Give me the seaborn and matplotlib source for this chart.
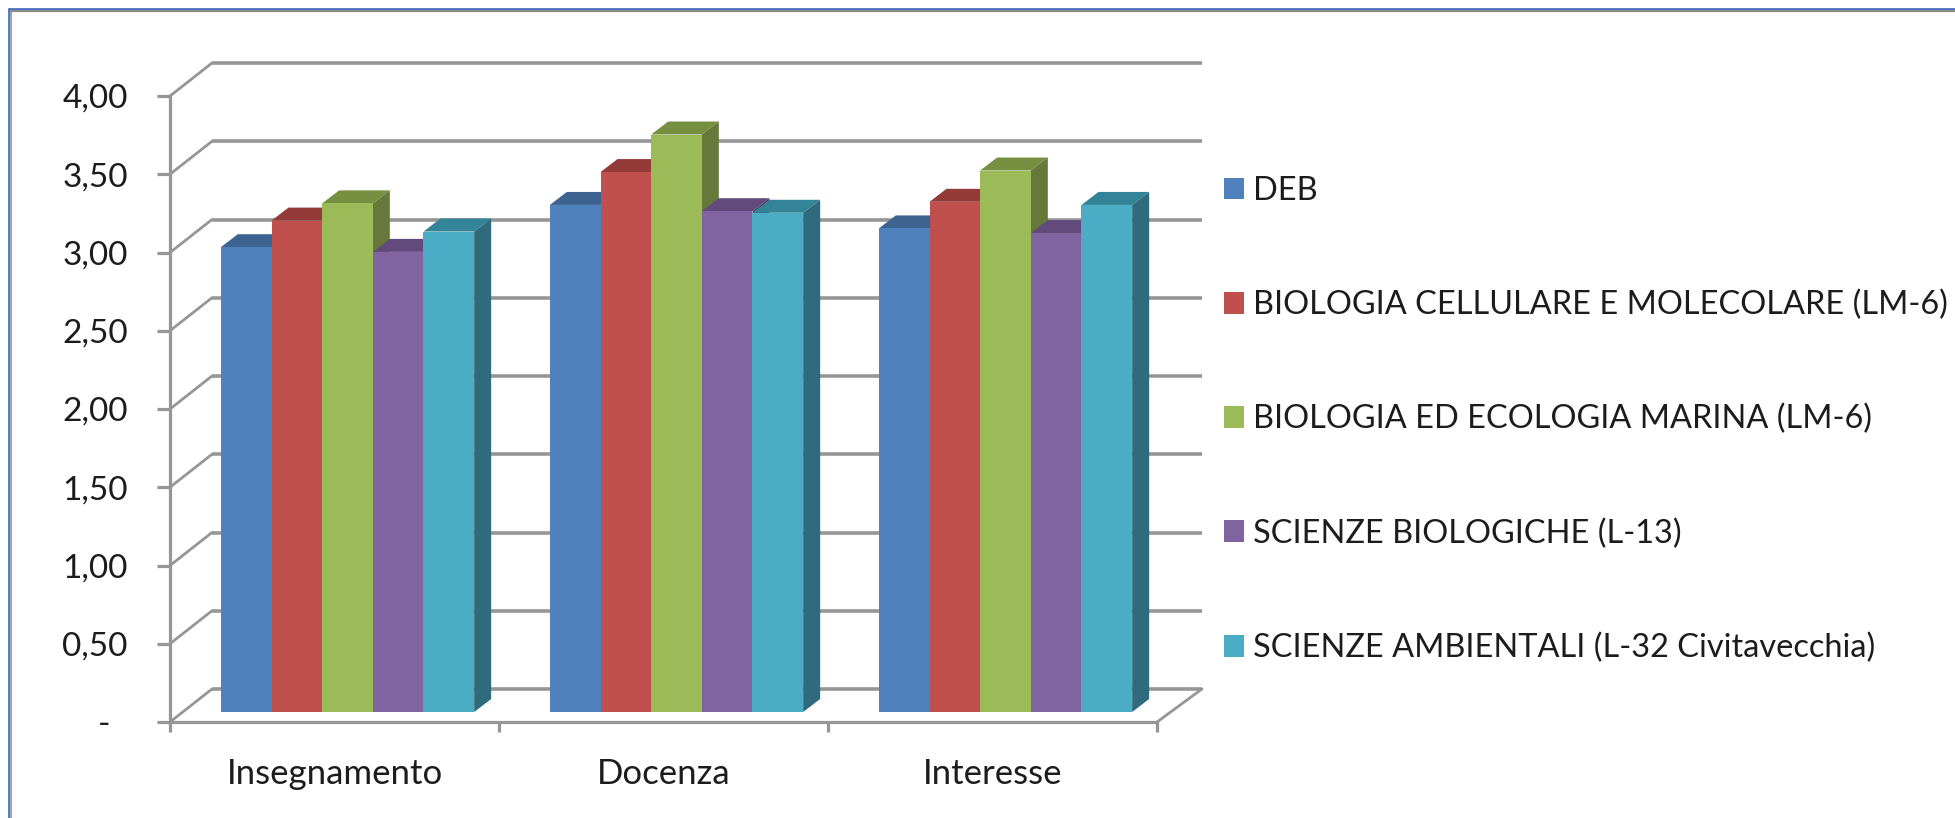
import matplotlib
matplotlib.use("Agg")
import matplotlib.pyplot as plt
from matplotlib.lines import Line2D
from matplotlib.patches import ConnectionPatch, Polygon
import pandas as pd
import seaborn as sns

categories = ["Insegnamento", "Docenza", "Interesse"]
series_names = [
    "DEB",
    "BIOLOGIA CELLULARE E MOLECOLARE (LM-6)",
    "BIOLOGIA ED ECOLOGIA MARINA (LM-6)",
    "SCIENZE BIOLOGICHE (L-13)",
    "SCIENZE AMBIENTALI (L-32 Civitavecchia)",
]
deb = [2.97, 3.24, 3.09]
cellulare = [3.14, 3.45, 3.26]
marina = [3.25, 3.69, 3.46]
biologiche = [2.94, 3.20, 3.06]
ambientali = [3.07, 3.19, 3.24]
all_values = [deb, cellulare, marina, biologiche, ambientali]

y_ticks = [0, 0.5, 1, 1.5, 2, 2.5, 3, 3.5, 4]
y_labels = ["-  ", "0,50", "1,00", "1,50", "2,00", "2,50", "3,00", "3,50", "4,00"]

front_colors = ["#4F81BD", "#C0504D", "#9BBB59", "#8064A2", "#4BACC6"]
top_colors = ["#3D6491", "#943A38", "#778F40", "#624A7C", "#348499"]
side_colors = ["#30506F", "#723130", "#66793A", "#4D3C60", "#2F6B7C"]
GRAY = "#969696"
FONT = "Lato"
W, H = 1955, 818

sns.set_theme(style="white")
plt.rcParams["font.family"] = [FONT, "DejaVu Sans"]

df = pd.DataFrame(
    [(c, s, v[i]) for s, v in zip(series_names, all_values) for i, c in enumerate(categories)],
    columns=["Ambito", "Corso", "Valore"],
)

fig = plt.figure(figsize=(W / 100, H / 100), dpi=100, facecolor="white")


def plane(left, right, top, bottom, z):
    a = fig.add_axes([left / W, 1 - bottom / H, (right - left) / W, (bottom - top) / H], zorder=z)
    a.patch.set_visible(False)
    a.set_xlim(-0.5, 2.5)
    a.set_ylim(0, 4)
    return a


back = plane(212, 1202, 63, 689, 0)
front = plane(170, 1157, 96, 722, 1)
ax = plane(183, 1170, 86, 712, 2)

# back wall gridlines
for a in (back, ax):
    a.set_xticks([])
    a.set_yticks([])
    sns.despine(ax=a, left=True, bottom=True)
    a.set_xlabel("")
    a.set_ylabel("")
for v in y_ticks:
    back.plot([-0.5, 2.5], [v, v], color=GRAY, lw=2.6, clip_on=False, solid_capstyle="butt")
    fig.add_artist(ConnectionPatch(xyA=(-0.5, v), coordsA=front.transData,
                                   xyB=(-0.5, v), coordsB=back.transData,
                                   color=GRAY, lw=2.0, zorder=0.5))
fig.add_artist(ConnectionPatch(xyA=(2.5, 0), coordsA=front.transData,
                               xyB=(2.5, 0), coordsB=back.transData,
                               color=GRAY, lw=2.0, zorder=0.5))

# front axis
sns.despine(ax=front, top=True, right=True)
for side in ("left", "bottom"):
    front.spines[side].set_color(GRAY)
    front.spines[side].set_linewidth(2.3)
front.set_yticks(y_ticks, y_labels)
front.set_xticks(range(len(categories)), categories)
front.set_xticks([-0.5, 0.5, 1.5, 2.5], minor=True)
front.tick_params(axis="y", which="major", left=True, length=9.5, width=2.3, color=GRAY,
                  pad=21, labelsize=24, labelcolor="#1c1c1c")
front.tick_params(axis="x", which="major", bottom=False, length=0, pad=26,
                  labelsize=25, labelcolor="#1c1c1c")
front.tick_params(axis="x", which="minor", bottom=True, length=7.5, width=2.3, color=GRAY)

# bars
sns.barplot(data=df, x="Ambito", y="Valore", hue="Corso", hue_order=series_names,
            order=categories, palette=front_colors, saturation=1, width=0.77, gap=0,
            linewidth=0, ax=ax)
ax.set_xlim(-0.5, 2.5)
ax.set_ylim(0, 4)
ax.set_xticks([])
ax.set_yticks([])
ax.set_xlabel("")
ax.set_ylabel("")

dx = 17 / (987 / 3)
dy = 13 / (626 / 4)
for i, container in enumerate(ax.containers):
    for bar in container:
        x0, w, h = bar.get_x(), bar.get_width(), bar.get_height()
        x1 = x0 + w
        bar.set_zorder(11 + 2 * i)
        ax.add_patch(Polygon([(x0, h), (x1, h), (x1 + dx, h + dy), (x0 + dx, h + dy)],
                             closed=True, fc=top_colors[i], ec="none", zorder=10 + 2 * i, clip_on=False))
        ax.add_patch(Polygon([(x1, 0), (x1 + dx, dy), (x1 + dx, h + dy), (x1, h)],
                             closed=True, fc=side_colors[i], ec="none", zorder=10 + 2 * i, clip_on=False))

# legend
sns.move_legend(ax, "center left", bbox_to_anchor=(1195 / W, 1 - 419.5 / H),
                bbox_transform=fig.transFigure, frameon=False, title=None,
                fontsize=23.4, handlelength=0.62, handleheight=0.66, handletextpad=0.26,
                labelspacing=2.58, labelcolor="#1c1c1c")

# frame strokes of the screenshot (top and left only)
fig.add_artist(Line2D([8.5 / W, 8.5 / W], [0, 1 - 8.5 / H], color="#4472C4", lw=2.0, zorder=5))
fig.add_artist(Line2D([8.5 / W, 1], [1 - 8.5 / H, 1 - 8.5 / H], color="#4472C4", lw=2.0, zorder=5))
fig.add_artist(Line2D([11 / W, 11 / W], [0, 1 - 11 / H], color="#A6A6A6", lw=1.6, zorder=5))
fig.add_artist(Line2D([11 / W, 1], [1 - 11 / H, 1 - 11 / H], color="#8C8C8C", lw=1.6, zorder=5))

fig.savefig("out.png", dpi=100, facecolor="white")
